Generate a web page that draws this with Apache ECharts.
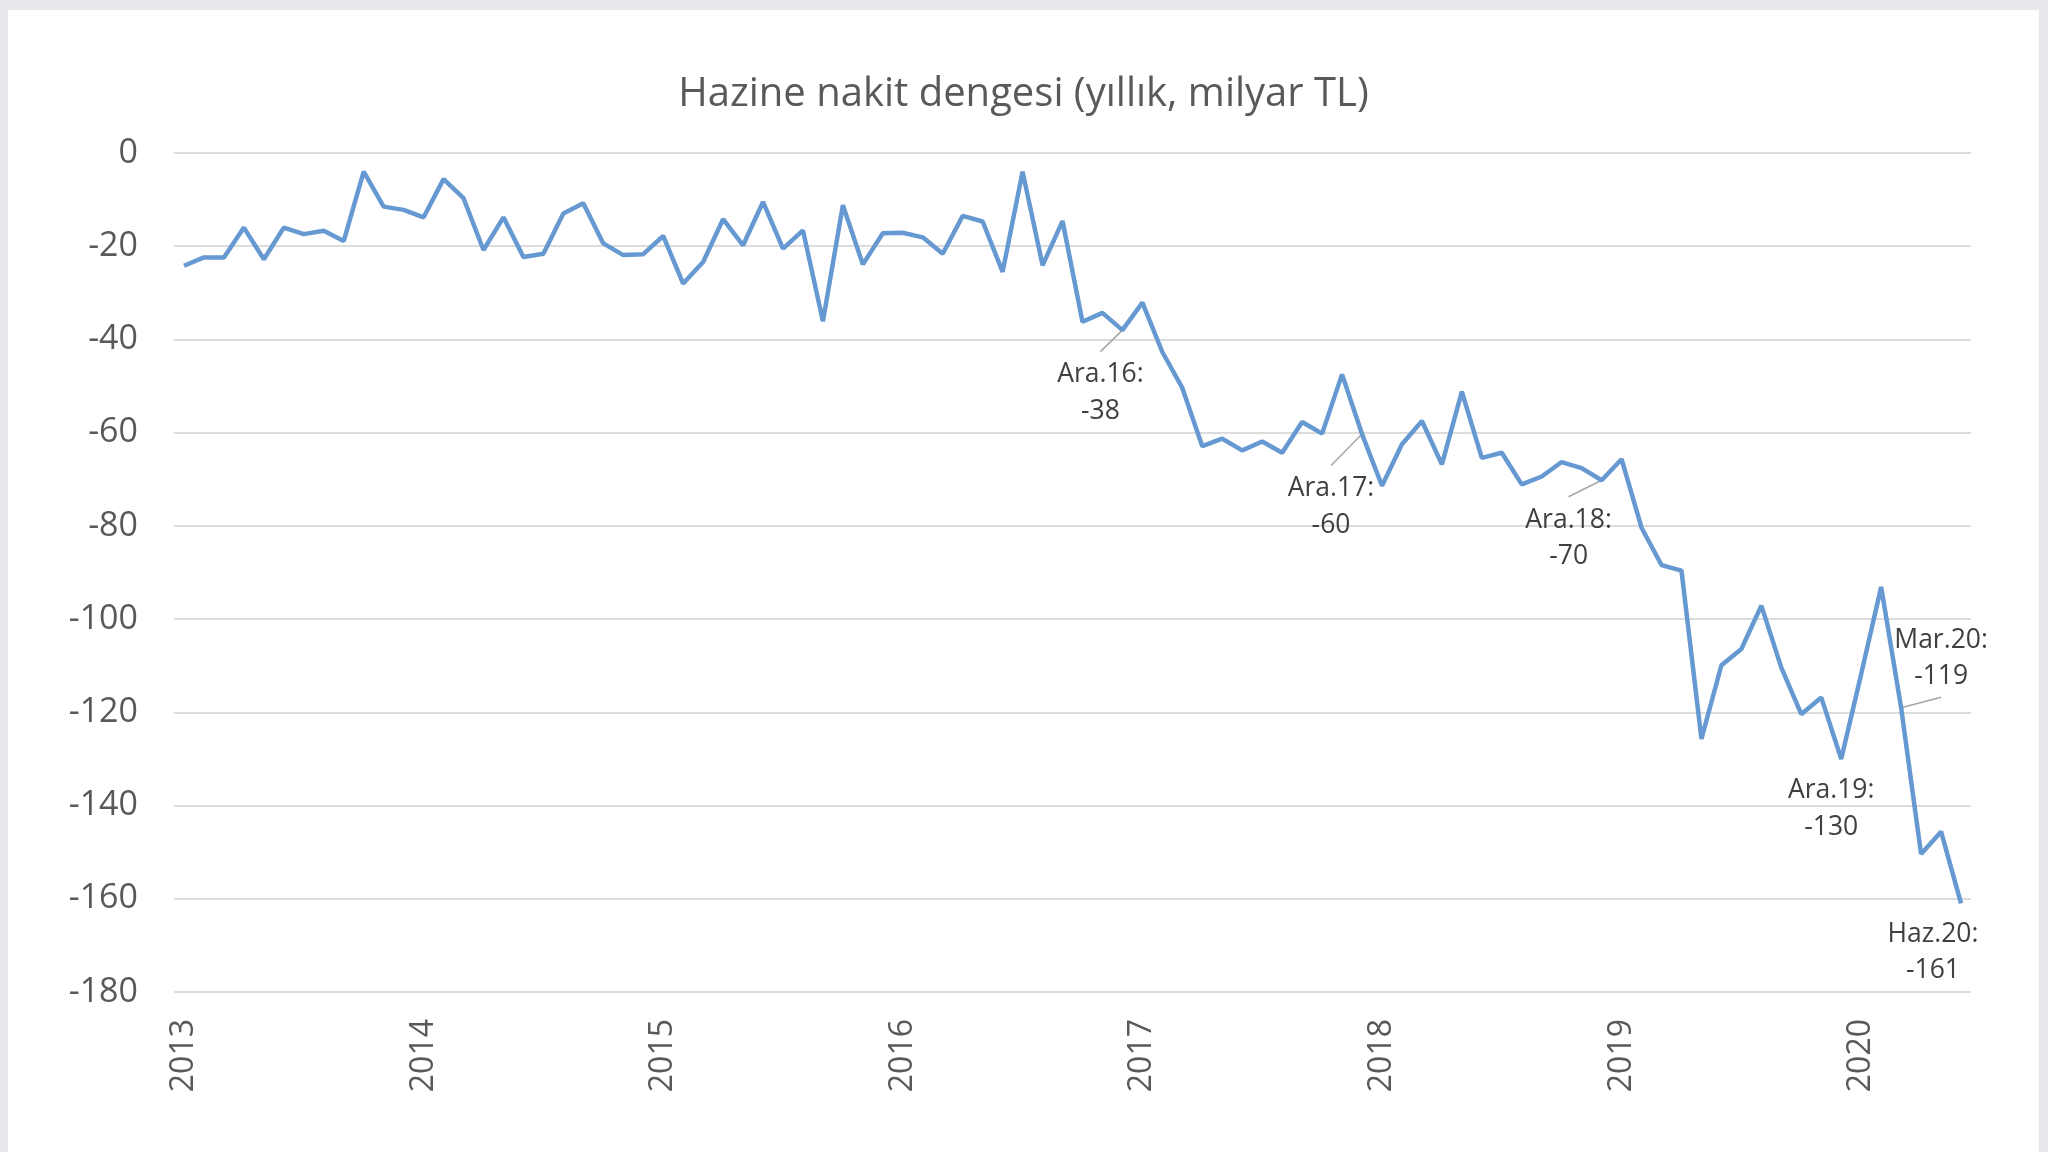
<!DOCTYPE html>
<html>
<head>
<meta charset="utf-8">
<script src="https://cdn.jsdelivr.net/npm/echarts@6/dist/echarts.min.js"></script>
<style>
html,body{margin:0;padding:0;background:#e9e8ee;width:2048px;height:1152px;overflow:hidden;}
#chart{position:absolute;left:8px;top:10px;width:2031px;height:1142px;background:#fff;}
</style>
</head>
<body>
<div id="chart"></div>
<script>
//yillar (x ekseni etiketleri)
var years=['2013','2014','2015','2016','2017','2018','2019','2020'];

//aylik yilliklandirilmis hazine nakit dengesi, milyar TL (Oca.13 - Haz.20)
var values=[
    -24.2,-22.4,-22.4,-16.0,-22.8,-16.0,-17.4,-16.7,-18.9,-4.0,-11.5,-12.2,
    -13.8,-5.6,-9.7,-20.8,-13.8,-22.3,-21.6,-13.0,-10.8,-19.4,-21.9,-21.7,
    -17.8,-28.0,-23.4,-14.2,-19.8,-10.5,-20.5,-16.6,-36.1,-11.2,-23.9,-17.2,
    -17.1,-18.1,-21.6,-13.5,-14.7,-25.5,-4.0,-24.1,-14.6,-36.2,-34.3,-38.0,
    -32.1,-42.7,-50.4,-62.9,-61.3,-63.8,-61.9,-64.3,-57.7,-60.2,-47.5,-60.3,
    -71.4,-62.5,-57.5,-66.8,-51.2,-65.4,-64.3,-71.1,-69.4,-66.3,-67.6,-70.2,
    -65.7,-80.4,-88.4,-89.6,-125.7,-109.9,-106.4,-97.1,-110.4,-120.4,-116.8,-130.0,
    -111.8,-93.1,-119.0,-150.4,-145.6,-161.0
];

//etiketli noktalar
var noteIdx=[47,59,71,83,86,89];
var noteText=['Ara.16:\n-38','Ara.17:\n-60','Ara.18:\n-70','Ara.19:\n-130','Mar.20:\n-119','Haz.20:\n-161'];
//etiket kaydirma (px) ve kilavuz cizgi tarafi
var noteShift=[[-22,63],[-31,73],[-33,58],[-10,50],[40,-49],[-28,49]];
var noteLeader=['top','top','top','','bottom',''];

var yTicks={min:-180,max:0,step:20};

//kategori listesi
var cats=[];
for(var i=0;i<values.length;i++){
    cats.push(years[Math.floor(i/12)]+'-'+(i%12+1));
}

var seriesData=[];
for(var j=0;j<values.length;j++){
    var k=noteIdx.indexOf(j);
    if(k<0){
        seriesData.push(values[j]);
    }else{
        seriesData.push({
            value:values[j],
            label:{show:true,formatter:noteText[k]}
        });
    }
}

var font='"Open Sans", sans-serif';
var lineH=36.5;
var myChart=echarts.init(document.getElementById('chart'));
var option={
    animation:false,
    backgroundColor:'#fff',
    title:{
        text:'Hazine nakit dengesi (yıllık, milyar TL)',
        left:'center',
        top:60,
        textStyle:{fontFamily:font,fontSize:40,fontWeight:'normal',color:'#595959'}
    },
    grid:{left:166,right:68,top:143,bottom:160,containLabel:false},
    xAxis:{
        type:'category',
        data:cats,
        boundaryGap:true,
        axisLine:{show:false},
        axisTick:{show:false},
        splitLine:{show:false},
        axisLabel:{
            interval:function(idx){return idx%12===0;},
            formatter:function(v){return v.split('-')[0];},
            rotate:90,
            margin:27,
            fontFamily:font,
            fontSize:32,
            color:'#595959'
        }
    },
    yAxis:{
        type:'value',
        min:yTicks.min,
        max:yTicks.max,
        interval:yTicks.step,
        axisLine:{show:false},
        axisTick:{show:false},
        axisLabel:{margin:36,padding:[5,0,0,0],fontFamily:font,fontSize:34,color:'#595959'},
        splitLine:{lineStyle:{color:'#dcdcdc',width:2}}
    },
    series:[{
        type:'line',
        data:seriesData,
        symbol:'circle',
        symbolSize:0,
        showSymbol:true,
        showAllSymbol:true,
        lineStyle:{color:'#6699d1',width:4.5},
        itemStyle:{color:'#6699d1'},
        label:{
            show:false,
            position:'inside',
            align:'center',
            verticalAlign:'middle',
            fontFamily:font,
            fontSize:26.5,
            lineHeight:lineH,
            color:'#404040'
        },
        labelLayout:function(p){
            var k=noteIdx.indexOf(p.dataIndex);
            if(k<0){return {};}
            return {dx:noteShift[k][0],dy:noteShift[k][1]};
        },
        emphasis:{disabled:true}
    }]
};
myChart.setOption(option);

//kilavuz cizgileri (nokta -> etiket)
var guides=[];
for(var n=0;n<noteIdx.length;n++){
    if(!noteLeader[n]){continue;}
    var idx=noteIdx[n];
    var pt=myChart.convertToPixel({gridIndex:0},[idx,values[idx]]);
    var ex=pt[0]+noteShift[n][0];
    var ey=noteLeader[n]==='top' ? pt[1]+noteShift[n][1]-lineH-5 : pt[1]+noteShift[n][1]+lineH+2;
    guides.push({
        type:'line',
        silent:true,
        z:1,
        shape:{x1:pt[0],y1:pt[1],x2:ex,y2:ey},
        style:{stroke:'#a6a6a6',lineWidth:1.5}
    });
}
myChart.setOption({graphic:guides});
</script>
</body>
</html>
